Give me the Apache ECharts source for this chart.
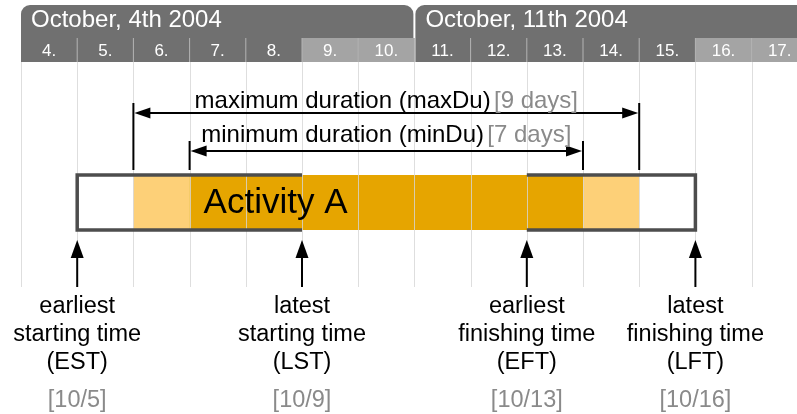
<!DOCTYPE html>
<html>
<head>
<meta charset="utf-8">
<script src="https://cdn.jsdelivr.net/npm/echarts@6.0.0/dist/echarts.min.js"></script>
<style>
  html, body { margin: 0; padding: 0; background: #fff; }
  #chart { width: 797px; height: 414px; }
</style>
</head>
<body>
<div id="chart"></div>
<script>
// days of the timeline (each value = left edge of that day column)
const days = [4, 5, 6, 7, 8, 9, 10, 11, 12, 13, 14, 15, 16, 17]
const weekendDays = [9, 10, 16, 17]
const weekStarts = [4, 11]
const weekEnds = [11, 18]
const weekNames = ['October, 4th 2004', 'October, 11th 2004']

const activityName = 'Activity A'
const est = 5, lst = 9, eft = 13, lft = 16

// bar pieces: white slack, light orange, dark orange
const segStarts = [5, 6, 7, 14, 15]
const segEnds = [6, 7, 14, 15, 16]
const segKinds = ['slack', 'flex', 'core', 'flex', 'slack']

const durStarts = [6, 7]
const durEnds = [15, 14]
const durNames = ['maximum duration (maxDu)', 'minimum duration (minDu)']
const durDays = ['[9 days]', '[7 days]']

const mileDates = [est, lst, eft, lft]
const mileNames = [
	['earliest', 'starting time', '(EST)'],
	['latest', 'starting time', '(LST)'],
	['earliest', 'finishing time', '(EFT)'],
	['latest', 'finishing time', '(LFT)']
]
const mileTags = ['[10/5]', '[10/9]', '[10/13]', '[10/16]']

const FONT = '"Liberation Sans", Arial, Helvetica, sans-serif'
const DAY_W = 56.2
const segColors = { slack: '#ffffff', flex: '#fdd078', core: '#e6a500' }

// layout rows (pixels from top)
const L = {
	headTop: 5, dayTop: 38, dayBottom: 62, gridBottom: 287,
	barTop: 175, barBottom: 230,
	durArrowY: [113, 151], durTickTop: [103, 141], durTickBottom: 170, durTextY: [101, 135],
	mileTip: 240, mileHead: 258, mileBottom: 287,
	mileTextY: 307, mileLine: 28, mileTagY: 401
}

const chart = echarts.init(document.getElementById('chart'))

const options = {
	animation: false,
	grid: { left: 21, right: 0, top: 0, bottom: 0 },
	xAxis: { type: 'value', min: 4, max: 4 + 776 / DAY_W, show: false },
	yAxis: { type: 'value', min: 0, max: 414, inverse: true, show: false },
	series: [
		// week header bands
		{
			type: 'custom',
			z: 1,
			data: weekStarts.map((s, i) => [s, weekEnds[i]]),
			renderItem: (params, api) => {
				const i = params.dataIndex
				const x0 = api.coord([api.value(0), 0])[0] + (i ? 1 : 0)
				const x1 = api.coord([api.value(1), 0])[0] - 1
				return {
					type: 'group',
					children: [
						{
							type: 'rect',
							shape: { x: x0, y: L.headTop, width: x1 - x0, height: L.dayBottom - L.headTop, r: [9, 9, 0, 0] },
							style: { fill: '#707070' }
						},
						{
							type: 'text',
							style: { text: weekNames[i], x: x0 + 10, y: 20, fill: '#fff', font: '24px ' + FONT, verticalAlign: 'middle' }
						}
					]
				}
			}
		},
		// day cells
		{
			type: 'custom',
			z: 2,
			data: days.map(d => [d]),
			renderItem: (params, api) => {
				const d = api.value(0)
				const x0 = api.coord([d, 0])[0]
				const x1 = api.coord([d + 1, 0])[0]
				const children = []
				if (weekendDays.includes(d)) {
					children.push({
						type: 'rect',
						shape: { x: x0, y: L.dayTop, width: x1 - x0, height: L.dayBottom - L.dayTop },
						style: { fill: '#a4a4a4' }
					})
				}
				if (d > days[0]) {
					children.push({
						type: 'line',
						shape: { x1: x0, y1: L.dayTop, x2: x0, y2: L.dayBottom },
						style: { stroke: '#b4b4b4', lineWidth: 1 }
					})
				}
				children.push({
					type: 'text',
					style: { text: d + '.', x: (x0 + x1) / 2, y: 51, fill: '#fff', font: '17px ' + FONT, align: 'center', verticalAlign: 'middle' }
				})
				return { type: 'group', children }
			}
		},
		// activity bar
		{
			type: 'custom',
			z: 3,
			data: segStarts.map((s, i) => [s, segEnds[i]]),
			renderItem: (params, api) => {
				const p0 = api.coord([api.value(0), L.barTop])
				const p1 = api.coord([api.value(1), L.barBottom])
				return {
					type: 'rect',
					shape: { x: p0[0], y: p0[1], width: p1[0] - p0[0], height: p1[1] - p0[1] },
					style: { fill: segColors[segKinds[params.dataIndex]] }
				}
			}
		},
		// vertical day grid lines
		{
			type: 'custom',
			z: 4,
			data: days.concat([days[days.length - 1] + 1]).map(d => [d]),
			renderItem: (params, api) => {
				const x = Math.round(api.coord([api.value(0), 0])[0]) + 0.5
				return {
					type: 'line',
					shape: { x1: x, y1: L.dayBottom, x2: x, y2: L.gridBottom },
					style: { stroke: '#d6d6d6', lineWidth: 1, opacity: 0.8 }
				}
			}
		},
		// outlines for start and finish windows
		{
			type: 'custom',
			z: 5,
			data: [[est, lst], [lft, eft]],
			renderItem: (params, api) => {
				const a = api.coord([api.value(0), 0])[0]
				const b = api.coord([api.value(1), 0])[0]
				return {
					type: 'polyline',
					shape: { points: [[b, L.barTop], [a, L.barTop], [a, L.barBottom], [b, L.barBottom]] },
					style: { stroke: '#4d4d4d', lineWidth: 3.5, fill: null }
				}
			}
		},
		// activity name
		{
			type: 'custom',
			z: 6,
			data: [[durStarts[1]]],
			renderItem: (params, api) => {
				const x = api.coord([api.value(0), 0])[0]
				return {
					type: 'text',
					style: { text: activityName, x: x + 14, y: (L.barTop + L.barBottom) / 2 + 1, fill: '#000', font: '35px ' + FONT, verticalAlign: 'middle' }
				}
			}
		},
		// duration brackets
		{
			type: 'custom',
			z: 6,
			data: durStarts.map((s, i) => [s, durEnds[i]]),
			renderItem: (params, api) => {
				const i = params.dataIndex
				const a = api.coord([api.value(0), 0])[0]
				const b = api.coord([api.value(1), 0])[0]
				const y = L.durArrowY[i]
				const hl = 16, hw = 5.5
				return {
					type: 'group',
					children: [
						{ type: 'line', shape: { x1: a, y1: L.durTickTop[i], x2: a, y2: L.durTickBottom }, style: { stroke: '#000', lineWidth: 2 } },
						{ type: 'line', shape: { x1: b, y1: L.durTickTop[i], x2: b, y2: L.durTickBottom }, style: { stroke: '#000', lineWidth: 2 } },
						{ type: 'line', shape: { x1: a + hl, y1: y, x2: b - hl, y2: y }, style: { stroke: '#000', lineWidth: 2 } },
						{ type: 'polygon', shape: { points: [[a + 1, y], [a + 1 + hl, y - hw], [a + 1 + hl, y + hw]] }, style: { fill: '#000' } },
						{ type: 'polygon', shape: { points: [[b - 1, y], [b - 1 - hl, y - hw], [b - 1 - hl, y + hw]] }, style: { fill: '#000' } },
						{
							type: 'text',
							style: {
								text: '{a|' + durNames[i] + '} {b|' + durDays[i] + '}',
								x: (a + b) / 2,
								y: L.durTextY[i],
								align: 'center',
								verticalAlign: 'middle',
								rich: {
									a: { fill: '#000', font: '24px ' + FONT },
									b: { fill: '#8a8a8a', font: '24px ' + FONT }
								}
							}
						}
					]
				}
			}
		},
		// milestone arrows and labels
		{
			type: 'custom',
			z: 6,
			data: mileDates.map(d => [d]),
			renderItem: (params, api) => {
				const i = params.dataIndex
				const x = api.coord([api.value(0), 0])[0]
				const children = [
					{ type: 'line', shape: { x1: x, y1: L.mileHead - 2, x2: x, y2: L.mileBottom }, style: { stroke: '#000', lineWidth: 2 } },
					{ type: 'polygon', shape: { points: [[x, L.mileTip], [x - 6.5, L.mileHead], [x + 6.5, L.mileHead]] }, style: { fill: '#000' } }
				]
				mileNames[i].forEach((t, k) => {
					children.push({
						type: 'text',
						style: { text: t, x, y: L.mileTextY + k * L.mileLine, fill: '#000', font: '23.5px ' + FONT, align: 'center', verticalAlign: 'middle' }
					})
				})
				children.push({
					type: 'text',
					style: { text: mileTags[i], x, y: L.mileTagY, fill: '#8a8a8a', font: '23.5px ' + FONT, align: 'center', verticalAlign: 'middle' }
				})
				return { type: 'group', children }
			}
		}
	]
}

chart.setOption(options)
</script>
</body>
</html>
